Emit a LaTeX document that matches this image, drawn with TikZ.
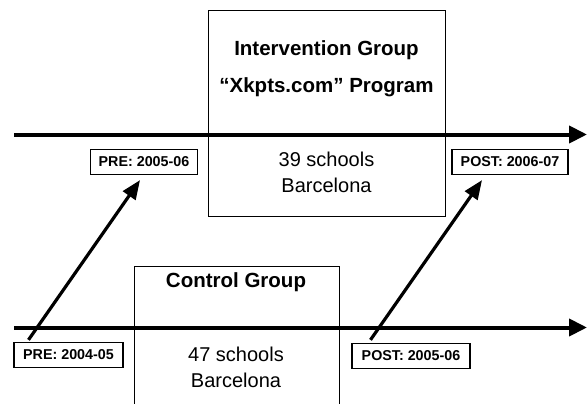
\documentclass[tikz,border=0pt]{standalone}
\usepackage{fontspec}
\setmainfont{Liberation Sans}
\usetikzlibrary{arrows.meta}
\tikzstyle{group}=[draw, line width=0.9pt, inner sep=0pt]
\tikzstyle{title}=[font=\bfseries\fontsize{20.5}{24}\selectfont]
\tikzstyle{info}=[font=\fontsize{20}{25.5}\selectfont, align=center]
\tikzstyle{date}=[draw, line width=1.3pt, fill=white, inner sep=0pt, minimum height=25pt, font=\bfseries\fontsize{14.3}{16}\selectfont]
\tikzstyle{timeline}=[line width=4pt, -{Triangle[length=18pt,width=17pt]}]
\tikzstyle{measure}=[line width=3.2pt, -{Triangle[length=19pt,width=15pt]}]

\begin{document}
\begin{tikzpicture}[x=1pt, y=-1pt]
\useasboundingbox[fill=white] (0,0) rectangle (587,404);
\clip (0,0) rectangle (587,404);
% Groups
    \node[group, minimum width=237pt, minimum height=206pt] (intbox) at (326.5,113) {};
    \node[group, minimum width=205pt, minimum height=160pt] (ctrlbox) at (236.5,346) {};
    \node[title] (inttitle) at (326.5,50) {Intervention Group};
    \node[title] (intprog) at (326.5,87) {“Xkpts.com” Program};
    \node[info] (intinfo) at (326.5,172.5) {39 schools\\Barcelona};
    \node[title] (ctrltitle) at (236,282) {Control Group};
    \node[info] (ctrlinfo) at (236,367.5) {47 schools\\Barcelona};
% Timelines
    \coordinate (upstart) at (14,134.5);
    \coordinate (upend) at (587,134.5);
    \coordinate (lowstart) at (14,327.5);
    \coordinate (lowend) at (587,327.5);
    \draw[timeline] (upstart) -- (upend);
    \draw[timeline] (lowstart) -- (lowend);
% Dates
    \node[date, minimum width=107pt] (pre1) at (144,162) {PRE: 2005-06};
    \node[date, minimum width=116pt] (post1) at (510,162) {POST: 2006-07};
    \node[date, minimum width=109pt] (pre2) at (68.5,355) {PRE: 2004-05};
    \node[date, minimum width=118pt] (post2) at (411,356) {POST: 2005-06};
% Measurements
    \draw[measure] ([xshift=-40pt,yshift=2pt]pre2.north) -- ([xshift=-4pt,yshift=-5pt]pre1.south);
    \draw[measure] ([xshift=-40.5pt,yshift=3pt]post2.north) -- ([xshift=-28pt,yshift=-5pt]post1.south);
\end{tikzpicture}
\end{document}
